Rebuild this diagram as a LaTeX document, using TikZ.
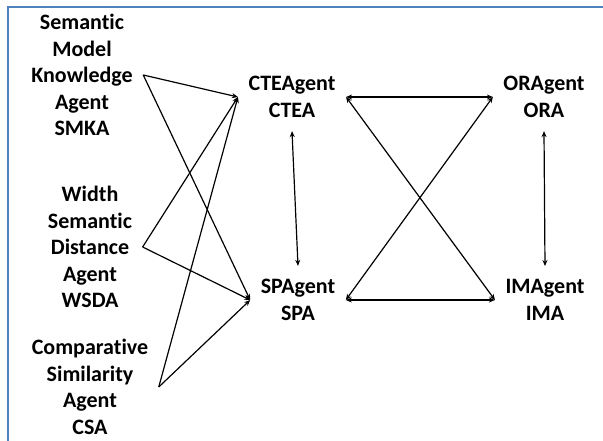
\documentclass[tikz,border=0pt]{standalone}
\usepackage{fontspec}
\setmainfont{Carlito}[Ligatures=NoCommon]
\usetikzlibrary{arrows.meta}
\definecolor{framecol}{RGB}{79,129,189}
\begin{document}
\begin{tikzpicture}[x=1pt,y=-1pt,>={Stealth[length=6pt,width=5pt]},line width=1.2pt]
\tikzstyle{every node}=[align=center,inner xsep=10pt,inner ysep=13pt,font=\fontsize{22}{26.5}\selectfont\bfseries]
\tikzstyle{source}=[inner ysep=1pt]
\useasboundingbox (0,0) rectangle (603,441);
\draw[framecol,line width=1.8pt] (8,441) -- (8,7) -- (603,7);
\node[source](smka) at (82,75) {Semantic\\Model\\Knowledge\\Agent\\SMKA};
\node[source](wsda) at (90,247) {Width\\Semantic\\Distance\\Agent\\WSDA};
\node[source](csa) at (90,387) {Comparative\\Similarity\\Agent\\CSA};
\node(ctea) at (292,97) {CTEAgent\\CTEA};
\node(spa) at (298,300) {SPAgent\\SPA};
\node(ora) at (544,97) {ORAgent\\ORA};
\node(ima) at (545,300) {IMAgent\\IMA};
\draw[->] (smka.east) -- (ctea.west);
\draw[->] (smka.east) -- (spa.west);
\draw[->] (wsda.east) -- (ctea.west);
\draw[->] (wsda.east) -- (spa.west);
\draw[->] (csa.east) -- (ctea.west);
\draw[->] (csa.east) -- (spa.west);
\draw[<->] (ctea.south) -- (spa.north);
\draw[<->] (ora.south) -- (ima.north);
\draw[<->] (ctea.east) -- (ora.west);
\draw[<->] (spa.east) -- (ima.west);
\draw[<->] (ctea.east) -- (ima.west);
\draw[<->] (spa.east) -- (ora.west);
\end{tikzpicture}
\end{document}
